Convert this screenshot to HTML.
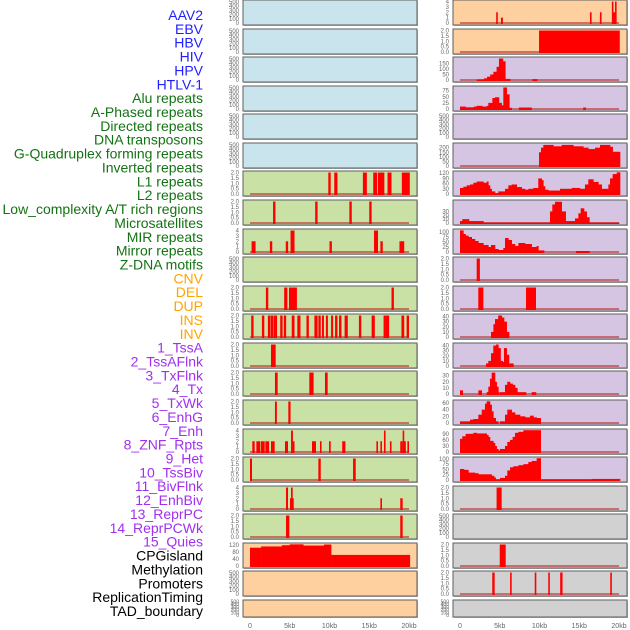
<!DOCTYPE html>
<html><head><meta charset="utf-8"><style>
html,body{margin:0;padding:0;background:#fff;width:630px;height:630px;overflow:hidden}
svg{display:block;font-family:"Liberation Sans",sans-serif}
</style></head><body>
<svg id="chart" width="630" height="630" viewBox="0 0 630 630"></svg>
<script>
// ---------- data ----------
const rowLabels = ["AAV2","EBV","HBV","HIV","HPV","HTLV-1","Alu repeats","A-Phased repeats","Directed repeats","DNA transposons","G-Quadruplex forming repeats","Inverted repeats","L1 repeats","L2 repeats","Low_complexity A/T rich regions","Microsatellites","MIR repeats","Mirror repeats","Z-DNA motifs","CNV","DEL","DUP","INS","INV","1_TssA","2_TssAFlnk","3_TxFlnk","4_Tx","5_TxWk","6_EnhG","7_Enh","8_ZNF_Rpts","9_Het","10_TssBiv","11_BivFlnk","12_EnhBiv","13_ReprPC","14_ReprPCWk","15_Quies","CPGisland","Methylation","Promoters","ReplicationTiming","TAD_boundary"];
const labelGroups = [6,13,5,15,5];
const xTickValues = [0,5,10,15,20];
const xTickLabels = ["0","5kb","10kb","15kb","20kb"];

const ticksEmpty = [0,100,200,300,400,500];
const ticks2 = [0,0.5,1,1.5,2];
const ticks4 = [0,1,2,3,4];

// left column spikes: starts, ends, values (kb)
const L6s = [9.85,10.6,14.2,15.5,16.1,17.3,19.1];
const L6e = [10.15,11.0,14.7,16.0,16.9,17.8,20.1];
const L6v = [2,2,2,2,2,2,2];
const L7s = [2.9,8.2,12.5,15.0];
const L7e = [3.2,8.5,12.8,15.3];
const L7v = [2,2,2,2];
const L8s = [0.2,2.5,4.5,5.1,10.0,15.6,16.4,18.8];
const L8e = [0.7,2.8,4.8,5.6,10.3,16.1,16.7,19.4];
const L8v = [2,2,2,4,2,4,2,2];
const L10s = [2.0,4.3,4.9,17.8];
const L10e = [2.3,4.7,5.9,18.1];
const L10v = [2,2,2,2];
const L11s = [0.15,1.5,2.25,2.6,2.95,3.15,3.8,4.25,5.25,5.95,7.1,8.1,8.6,9.05,9.55,10.2,10.7,11.2,11.9,13.7,15.3,16.8,17.1,19.05,19.7];
const L11e = [0.45,1.8,2.55,2.9,3.15,3.4,4.1,4.55,5.6,6.35,7.4,8.5,8.9,9.3,9.8,10.45,11.0,11.5,12.3,14.0,15.7,17.1,17.5,19.4,20.0];
const L11v = [2,2,2,2,2,2,2,2,2,2,2,2,2,2,2,2,2,2,2,2,2,2,2,2,2];
const L12s = [2.64]; const L12e = [3.23]; const L12v = [2];
const L13s = [3.14,7.46,9.43]; const L13e = [3.48,8.0,9.77]; const L13v = [2,2,2];
const L14s = [3.14,4.82]; const L14e = [3.38,5.1]; const L14v = [2,2];
const L15s = [0.29,0.8,1.34,1.93,2.64,4.4,5.16,5.37,7.8,8.8,9.94,11.6,15.9,16.4,16.85,17.6,18.9,19.2,19.25,19.8];
const L15e = [0.59,1.26,1.85,2.4,3.1,4.78,5.4,5.6,8.3,9.0,10.15,12.0,16.1,16.6,17.05,17.8,19.2,19.35,19.6,20.0];
const L15v = [2,2,2,2,2,2,4,2,2,2,2,2,2,2,4,2,2,4,2,2];
const L16s = [0.0,8.6,12.96]; const L16e = [0.25,8.9,13.3]; const L16v = [2,2,2];
const L17s = [4.53,5.03,5.16,16.4,18.9]; const L17e = [4.78,5.5,5.37,16.6,19.2]; const L17v = [4,2,4,2,2];
const L18s = [4.53,18.9]; const L18e = [4.95,19.2]; const L18v = [2,2];
const cpgEdges = [0,1.4,4.0,5.0,6.7,9.3,10.2,20.1];
const cpgVals = [104,111,118,123,116,122,63];

// right column
const R0s = [4.55,5.15,16.35,17.6,19.1,19.3,19.5];
const R0e = [4.75,5.4,16.55,17.8,19.3,19.5,19.7];
const R0v = [2,1,2,2,4,2,4];
const R1s = [9.94]; const R1e = [20.1]; const R1v = [2];
const hpvEdges = [2.1,3.0,3.4,3.8,4.2,4.6,4.9,5.4,5.7,6.3,9.1,9.7];
const hpvVals = [5,15,30,50,75,120,195,170,10,0,8];
const aluEdges = [0,0.7,1.76,2.1,2.8,3.35,3.56,4.07,4.4,4.9,5.24,5.45,5.87,6.2,6.5,7.4,9.0,15.5,15.8];
const aluVals = [10,7,10,13,10,13,25,45,48,25,15,88,60,5,0,6,0,6];
const g4Edges = [9.94,10.19,10.48,11.74,12.79,14.26,15.51,16.14,16.98,17.61,18.87,19.2,20.13];
const g4Vals = [150,200,230,215,230,215,200,185,200,230,210,155];
const l1Edges = [0,0.42,0.84,1.26,1.68,2.1,2.94,3.35,3.56,3.77,3.98,4.4,4.82,5.66,6.08,6.5,7.13,7.76,8.18,8.6,9.23,9.85,10.27,10.48,10.69,11.11,12.58,14.05,15.09,15.72,16.14,16.77,17.4,17.82,18.66,18.87,19.2,19.71,20.13];
const l1Vals = [35,42,50,55,65,72,65,72,50,30,15,5,15,30,50,55,40,30,25,30,35,90,80,45,25,20,30,35,30,55,85,70,55,30,55,90,115,125];
const lcEdges = [0,0.29,1.13,2.94,11.32,11.61,11.95,12.79,13.29,14.47,14.89,15.18,15.6,15.93,16.27,20.0];
const lcVals = [5,10,5,1,30,48,55,30,5,12,25,38,30,15,1];
const mirEdges = [0,0.42,0.71,1.05,1.47,1.89,2.31,2.94,3.56,3.9,4.4,4.82,5.45,5.66,6.08,6.5,6.92,7.34,8.18,9.01,9.64,9.85,10.57,14.59,16.27];
const mirVals = [108,90,82,75,65,55,45,35,25,35,15,10,20,70,60,40,30,45,40,25,30,8,0,5];
const R9s = [2.1]; const R9e = [2.5]; const R9v = [2];
const R10s = [2.3,8.3]; const R10e = [2.94,9.56]; const R10v = [2,2];
const insEdges = [3.9,4.2,4.4,4.8,5.25,5.54,5.87,6.17];
const insVals = [10,25,35,42,38,30,10];
const tssaEdges = [3.27,3.56,3.9,4.19,4.53,4.82,5.1,5.37,5.53,5.87,6.16,6.71];
const tssaVals = [5,10,25,40,42,35,10,8,35,22,5];
const flnkEdges = [0,0.34,2.31,2.73,3.35,3.56,3.77,3.98,4.4,4.61,4.82,4.95,5.03,5.66,5.95,6.29,6.62,6.92,7.21,8.3,9.01,9.56];
const flnkVals = [6,0,6,0,3,12,25,35,20,12,3,0,3,15,20,17,15,10,3,0,3];
const txfEdges = [0,1.26,1.68,2.31,2.73,3.14,3.35,3.77,3.98,4.19,4.49,4.82,5.03,5.66,5.95,6.5,6.92,7.55,8.18,8.8,9.23,9.64,10.15];
const txfVals = [5,10,12,25,40,58,65,55,35,15,5,0,5,25,40,32,25,20,17,22,17,15];
const txEdges = [0,0.29,0.71,1.68,2.1,3.35,3.56,3.77,4.19,4.4,4.61,4.82,5.03,5.66,5.95,6.29,6.62,6.92,7.34,7.97,10.15];
const txVals = [65,78,90,95,92,85,75,55,45,30,15,8,15,30,50,60,75,95,100,108];
const txwkEdges = [0,0.5,1.05,1.89,2.31,3.98,4.28,4.49,5.03,5.66,5.95,6.29,6.71,7.34,7.97,8.6,9.01,9.64,10.15,16.56,20.13];
const txwkVals = [52,48,35,32,27,20,12,3,10,20,45,60,65,70,75,85,90,103,3,5];
const R17s = [4.6]; const R17e = [5.24]; const R17v = [2];
const R19s = [5.0]; const R19e = [5.75]; const R19v = [2];
const R20s = [4.06,6.3,9.4,11.1,12.6,18.9];
const R20e = [4.36,6.5,9.6,11.3,12.9,19.1];
const R20v = [2,2,2,2,2,2];

// ---------- drawing ----------
const NS = "http://www.w3.org/2000/svg";
const svg = document.getElementById("chart");
function mk(tag, attrs, parent){const e=document.createElementNS(NS,tag);for(const k in attrs)e.setAttribute(k,attrs[k]);(parent||svg).appendChild(e);return e;}

const BG = {blue:"#c9e4ec",green:"#c9e1a5",orange:"#fecf9f",purple:"#d5c5e2",grey:"#d1d1d1"};
const COLS = [{x0:243,x1:417,zero:250},{x0:453,x1:627,zero:460}];
const KB = 7.95;
function rowTop(r){return Math.round(r*28.57);}
function rowH(r){return r===21?17:25;}
function xScale(col,kb){return COLS[col].zero + kb*KB;}

function spikes(s,e,v){return {type:"spike",s:s,e:e,v:v};}
function prof(edges,vals){return {type:"prof",edges:edges,vals:vals};}

const panels = [
 [0,0,"blue",520,ticksEmpty,null],[0,1,"blue",520,ticksEmpty,null],[0,2,"blue",520,ticksEmpty,null],
 [0,3,"blue",520,ticksEmpty,null],[0,4,"blue",520,ticksEmpty,null],[0,5,"blue",520,ticksEmpty,null],
 [0,6,"green",2.05,ticks2,spikes(L6s,L6e,L6v)],[0,7,"green",2.05,ticks2,spikes(L7s,L7e,L7v)],
 [0,8,"green",4.1,ticks4,spikes(L8s,L8e,L8v)],[0,9,"green",520,ticksEmpty,null],
 [0,10,"green",2.05,ticks2,spikes(L10s,L10e,L10v)],[0,11,"green",2.05,ticks2,spikes(L11s,L11e,L11v)],
 [0,12,"green",2.05,ticks2,spikes(L12s,L12e,L12v)],[0,13,"green",2.05,ticks2,spikes(L13s,L13e,L13v)],
 [0,14,"green",2.05,ticks2,spikes(L14s,L14e,L14v)],[0,15,"green",4.1,ticks4,spikes(L15s,L15e,L15v)],
 [0,16,"green",2.05,ticks2,spikes(L16s,L16e,L16v)],[0,17,"green",4.1,ticks4,spikes(L17s,L17e,L17v)],
 [0,18,"green",2.05,ticks2,spikes(L18s,L18e,L18v)],[0,19,"orange",125,[0,40,80,120],prof(cpgEdges,cpgVals)],
 [0,20,"orange",520,ticksEmpty,null],[0,21,"orange",520,ticksEmpty,null],
 [1,0,"orange",4.1,ticks4,spikes(R0s,R0e,R0v)],[1,1,"orange",2.05,ticks2,spikes(R1s,R1e,R1v)],
 [1,2,"purple",200,[0,50,100,150],prof(hpvEdges,hpvVals)],[1,3,"purple",90,[0,25,50,75],prof(aluEdges,aluVals)],
 [1,4,"purple",520,ticksEmpty,null],[1,5,"purple",240,[0,50,100,150,200],prof(g4Edges,g4Vals)],
 [1,6,"purple",127,[0,30,60,90,120],prof(l1Edges,l1Vals)],[1,7,"purple",57,[0,10,20,30],prof(lcEdges,lcVals)],
 [1,8,"purple",110,[0,25,50,75,100],prof(mirEdges,mirVals)],[1,9,"purple",2.05,ticks2,spikes(R9s,R9e,R9v)],
 [1,10,"purple",2.05,ticks2,spikes(R10s,R10e,R10v)],[1,11,"purple",43,[0,10,20,30,40],prof(insEdges,insVals)],
 [1,12,"purple",43,[0,10,20,30,40],prof(tssaEdges,tssaVals)],[1,13,"purple",36,[0,10,20,30],prof(flnkEdges,flnkVals)],
 [1,14,"purple",66,[0,20,40,60],prof(txfEdges,txfVals)],[1,15,"purple",109,[0,30,60,90],prof(txEdges,txVals)],
 [1,16,"purple",104,[0,25,50,75,100],prof(txwkEdges,txwkVals)],[1,17,"grey",2.05,ticks2,spikes(R17s,R17e,R17v)],
 [1,18,"grey",520,ticksEmpty,null],[1,19,"grey",2.05,ticks2,spikes(R19s,R19e,R19v)],
 [1,20,"grey",2.05,ticks2,spikes(R20s,R20e,R20v)],[1,21,"grey",520,ticksEmpty,null]
];

panels.forEach(function(p){
  const col=p[0], row=p[1], bg=p[2], ymax=p[3], ticks=p[4], d=p[5];
  const C=COLS[col], top=rowTop(row), h=rowH(row), bot=top+h;
  const g=mk("g",{});
  
  
  mk("rect",{x:C.x0+1,y:top+1,width:C.x1-C.x0,height:h,fill:"#b8b8b8"},g);
  const bgR=mk("rect",{x:C.x0,y:top,width:C.x1-C.x0,height:h,fill:BG[bg],stroke:"#5e5e5e","stroke-width":1},g);
  
  
  const y0=bot-2, y1=top+1;
  function yS(v){return y0-(v/ymax)*(y0-y1);}
  // ticks
  const small = (h<20);
  ticks.forEach(function(t){
    const ty=yS(t);
    const txt=mk("text",{x:C.x0-4,y:ty+2,"text-anchor":"end","font-size":small?5:6,fill:"#666"},g);
    txt.textContent = (ticks===ticks2)? t.toFixed(1) : String(t);
    
    
  });
  if(!d) return;
  if(d.type==="spike"){
    mk("line",{x1:xScale(col,0),x2:xScale(col,20),y1:y0,y2:y0,stroke:"rgba(190,30,30,0.55)","stroke-width":2},g);
    for(let i=0;i<d.s.length;i++){
      const xa=xScale(col,d.s[i]), xb=Math.max(xScale(col,d.e[i]),xa+1.6);
      const r=mk("rect",{x:xa,y:yS(d.v[i]),width:xb-xa,height:y0-yS(d.v[i])+1,fill:"#ff0000"},g);
      
      
    }
  } else {
    if(bg!=="orange") mk("line",{x1:xScale(col,0),x2:xScale(col,20),y1:y0,y2:y0,stroke:"rgba(190,30,30,0.55)","stroke-width":2},g);
    for(let i=0;i<d.vals.length;i++){
      if(d.vals[i]<=0) continue;
      const xa=xScale(col,d.edges[i]), xb=xScale(col,d.edges[i+1]);
      const r=mk("rect",{x:xa,y:yS(d.vals[i]),width:xb-xa+0.3,height:y0-yS(d.vals[i])+1,fill:"#ff0000"},g);
      
      
    }
  }
});

// x-axis tick labels
[0,1].forEach(function(col){
  xTickValues.forEach(function(v,i){
    const t=mk("text",{x:xScale(col,v),y:628,"text-anchor":"middle","font-size":7,fill:"#666"});
    t.textContent=xTickLabels[i];
    
    
  });
});

// row labels
const groupColors=["#1f1fff","#137313","#ffa500","#a030ee","#000000"];
let gi=0, cnt=0;
rowLabels.forEach(function(lab,i){
  if(cnt>=labelGroups[gi]){gi++;cnt=0;}
  cnt++;
  const t=mk("text",{x:203,y:15+i*13.86+5,"text-anchor":"end","font-size":14,fill:groupColors[gi]});
  t.textContent=lab;
  
  
});
</script>
</body></html>
